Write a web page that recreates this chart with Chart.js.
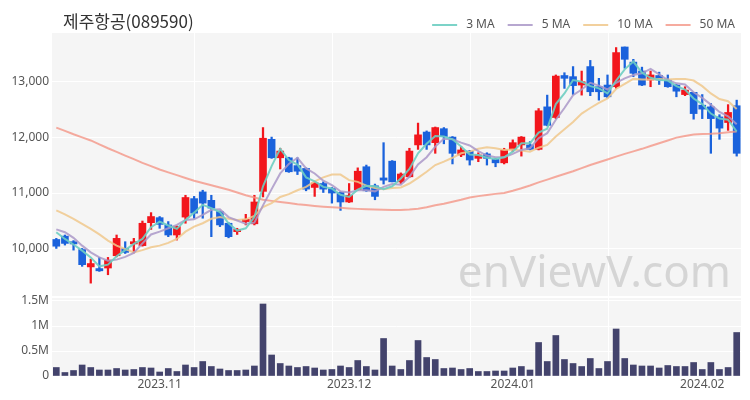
<!DOCTYPE html>
<html>
<head>
<meta charset="utf-8">
<script src="https://cdn.jsdelivr.net/npm/chart.js@4.4.1/dist/chart.umd.min.js"></script>
<style>
  html, body { margin: 0; padding: 0; background: #fff; }
  #wrap { position: relative; width: 750px; height: 400px; overflow: hidden; }
  #title { position: absolute; left: 63px; top: 8px; font: 17px "Noto Sans CJK KR", "Noto Sans", sans-serif; color: #333; white-space: nowrap; }
  #priceCanvas { position: absolute; left: 0; top: 0; }
  #volCanvas { position: absolute; left: 0; top: 286px; }
</style>
</head>
<body>
<div id="wrap">
  <canvas id="priceCanvas" width="750" height="297"></canvas>
  <canvas id="volCanvas" width="750" height="114"></canvas>
  <div id="title">제주항공(089590)</div>
</div>
<script>
// ---- data ----
const dates = [
  '2023-10-16','2023-10-17','2023-10-18','2023-10-19','2023-10-20','2023-10-23','2023-10-24','2023-10-25','2023-10-26','2023-10-27','2023-10-30','2023-10-31',
  '2023-11-01','2023-11-02','2023-11-03','2023-11-06','2023-11-07','2023-11-08','2023-11-09','2023-11-10','2023-11-13','2023-11-14','2023-11-15','2023-11-16','2023-11-17','2023-11-20','2023-11-21','2023-11-22','2023-11-23','2023-11-24','2023-11-27','2023-11-28','2023-11-29','2023-11-30',
  '2023-12-01','2023-12-04','2023-12-05','2023-12-06','2023-12-07','2023-12-08','2023-12-11','2023-12-12','2023-12-13','2023-12-14','2023-12-15','2023-12-18','2023-12-19','2023-12-20','2023-12-21','2023-12-22','2023-12-26','2023-12-27','2023-12-28',
  '2024-01-02','2024-01-03','2024-01-04','2024-01-05','2024-01-08','2024-01-09','2024-01-10','2024-01-11','2024-01-12','2024-01-15','2024-01-16','2024-01-17','2024-01-18','2024-01-19','2024-01-22','2024-01-23','2024-01-24','2024-01-25','2024-01-26','2024-01-29','2024-01-30','2024-01-31',
  '2024-02-01','2024-02-02','2024-02-05','2024-02-06','2024-02-07'
];
const opens = [10170,10230,10130,9990,9680,9650,9660,9880,10010,10090,10060,10470,10560,10430,10250,10570,10900,11020,10870,10670,
  10460,10310,10490,10450,11030,11960,11630,11630,11490,11440,11100,11170,11080,11010,10840,11060,11470,11130,11270,11570,
  11200,11290,11860,12090,11900,12150,12000,11680,11750,11620,11700,11600,11540,11780,11860,11860,11780,12540,12350,13100,
  13080,12930,13260,12900,12930,12900,13610,13340,13180,13020,13100,13020,12930,12760,12800,12570,12540,12360,12260,12560];
const highs = [10190,10250,10150,10010,9820,9850,9850,10250,10130,10190,10500,10650,10580,10490,10410,10960,10940,11050,10960,10680,
  10470,10370,10620,10960,12170,12000,11800,11640,11630,11450,11200,11200,11100,11020,11170,11450,11500,11160,11900,11580,
  11360,11800,12250,12110,12180,12170,12010,11830,11760,11720,11720,11620,11800,11950,12010,11920,12510,12750,13110,13150,
  13260,13180,13370,13050,13110,13600,13610,13390,13250,13180,13160,13110,12940,12900,12800,12760,12600,12400,12580,12660];
const lows = [10010,10070,9980,9690,9390,9600,9540,9860,9920,9930,10050,10350,10370,10220,10160,10460,10550,10550,10220,10400,
  10200,10260,10430,10430,10930,11620,11430,11370,11330,11040,10940,11010,10820,10690,10830,11050,11030,10880,11160,11200,
  11170,11280,11780,11780,11710,11880,11520,11650,11500,11560,11500,11470,11520,11740,11660,11770,11770,12200,12330,12870,
  12760,12750,12740,12660,12700,12870,13230,13080,12920,12900,12940,12890,12720,12740,12320,12330,11710,11960,12120,11660];
const closes = [10050,10100,10090,9720,9740,9610,9800,10190,9940,10130,10460,10580,10440,10250,10400,10920,10640,10820,10730,10430,
  10220,10350,10530,10840,11980,11630,11750,11380,11390,11070,11180,11070,11000,10840,10960,11390,11040,10940,11230,11200,
  11340,11750,12040,11860,12170,12010,11710,11770,11590,11680,11620,11540,11770,11900,12000,11780,12470,12210,13090,13050,
  12920,12990,12810,12810,12720,13510,13390,13140,12930,13110,13020,12900,12820,12840,12420,12500,12330,12160,12440,11710];
const volumes = [170000,70000,110000,220000,170000,120000,120000,150000,120000,130000,170000,160000,80000,150000,90000,220000,170000,290000,190000,140000,
  110000,110000,120000,200000,1440000,420000,250000,200000,170000,190000,160000,120000,130000,200000,170000,310000,190000,120000,750000,200000,
  130000,310000,710000,370000,330000,150000,160000,130000,150000,90000,90000,100000,100000,160000,190000,120000,670000,290000,810000,330000,
  250000,190000,350000,150000,290000,940000,350000,220000,200000,200000,160000,210000,190000,190000,270000,130000,270000,130000,170000,870000];
const ma3 = [10300,10180,10080,9970,9850,9690,9720,9870,9980,10090,10180,10390,10490,10420,10360,10520,10650,10790,10730,10660,
  10460,10330,10370,10570,11120,11480,11790,11590,11510,11280,11210,11110,11080,10970,10930,11060,11130,11120,11070,11120,
  11260,11430,11710,11880,12020,12010,11960,11830,11690,11680,11630,11610,11640,11740,11890,11890,12080,12150,12590,12780,
  13020,12990,12910,12870,12780,13010,13210,13350,13150,13060,13020,13010,12910,12850,12690,12590,12420,12330,12310,12100];
const ma5 = [10350,10300,10200,10060,9940,9850,9790,9810,9860,9930,10100,10260,10310,10370,10430,10520,10530,10610,10700,10710,
  10570,10510,10450,10470,10780,11070,11350,11520,11630,11440,11350,11220,11140,11030,11010,11050,11050,11030,11110,11160,
  11150,11290,11510,11640,11830,11970,11960,11900,11850,11750,11670,11640,11640,11700,11770,11800,11980,12070,12310,12520,
  12750,12850,12970,12920,12850,12970,13050,13110,13140,13220,13120,13020,12960,12940,12800,12700,12580,12450,12370,12230];
const ma10 = [10690,10620,10540,10450,10360,10260,10150,10060,10000,9940,9980,10030,10060,10110,10180,10310,10400,10460,10540,10570,
  10540,10520,10530,10590,10750,10820,10930,10980,11050,11110,11210,11280,11330,11330,11230,11200,11130,11090,11070,11090,
  11100,11170,11270,11380,11500,11560,11630,11710,11740,11790,11820,11800,11770,11780,11760,11740,11810,11860,12010,12140,
  12270,12420,12520,12610,12690,12860,12950,13040,13030,13030,13040,13030,13040,13040,13010,12910,12780,12680,12640,12500];
const ma50 = [12170,12110,12050,11995,11940,11870,11800,11735,11670,11605,11540,11480,11420,11370,11320,11270,11220,11180,11140,11100,
  11060,11010,10960,10920,10880,10860,10840,10820,10800,10785,10770,10757,10745,10735,10725,10717,10710,10705,10700,10698,
  10696,10705,10720,10745,10780,10810,10845,10880,10920,10945,10965,10985,11000,11040,11085,11135,11190,11240,11290,11340,
  11390,11445,11500,11550,11600,11650,11700,11745,11790,11840,11890,11940,11990,12020,12045,12055,12060,12070,12085,12100];
const priceTicks = [10000, 11000, 12000, 13000];
const volumeTicks = [0, 500000, 1000000, 1500000];
const volumeTickLabels = ['0', '0.5M', '1M', '1.5M'];
const maNames = ['3 MA', '5 MA', '10 MA', '50 MA'];

// ---- styling ----
const UP = '#f2161c', DOWN = '#1a62dc';
const maColors = ['rgba(110,206,194,0.9)', 'rgba(170,152,200,0.85)', 'rgba(240,200,140,0.85)', 'rgba(244,150,135,0.8)'];
const FONT = '"Noto Sans", "Noto Sans CJK KR", sans-serif';
const LEFT_AXIS_W = 52;
const gridIdx = [16, 32, 48, 64];
const candleColors = opens.map((o, i) => closes[i] >= o ? UP : DOWN);

const bgPlugin = {
  id: 'plotBg',
  beforeDraw(chart) {
    const {ctx, chartArea: a} = chart;
    ctx.save();
    ctx.fillStyle = '#f5f5f5';
    ctx.fillRect(a.left, a.top, a.right - a.left, a.bottom - a.top);
    ctx.restore();
  }
};
const vGrid = {
  id: 'vGrid',
  beforeDatasetsDraw(chart) {
    const {ctx, chartArea: a, scales} = chart;
    ctx.save();
    ctx.strokeStyle = '#ffffff';
    ctx.lineWidth = 1;
    gridIdx.forEach(i => {
      const x = Math.round(scales.x.getPixelForValue(i)) + 0.5;
      ctx.beginPath(); ctx.moveTo(x, a.top); ctx.lineTo(x, a.bottom); ctx.stroke();
    });
    ctx.restore();
  }
};
const watermark = {
  id: 'watermark',
  beforeDatasetsDraw(chart) {
    const {ctx} = chart;
    ctx.save();
    ctx.font = '44px ' + FONT;
    ctx.fillStyle = 'rgba(200,200,200,0.7)';
    ctx.textAlign = 'right';
    ctx.textBaseline = 'alphabetic';
    ctx.fillText('enViewV.com', 731, 287);
    ctx.restore();
  }
};
const maLegend = {
  id: 'maLegend',
  afterDraw(chart) {
    const {ctx} = chart;
    const items = chart.data.datasets.filter(d => d.type === 'line');
    ctx.save();
    ctx.font = '12px ' + FONT;
    ctx.textBaseline = 'middle';
    let x = 735;
    const y = 25;
    for (let k = items.length - 1; k >= 0; k--) {
      const d = items[k];
      const w = ctx.measureText(d.label).width;
      ctx.fillStyle = '#555';
      ctx.textAlign = 'left';
      ctx.fillText(d.label, x - w, y);
      x -= w + 9;
      ctx.strokeStyle = d.borderColor;
      ctx.lineWidth = 2;
      ctx.beginPath();
      ctx.moveTo(x - 25, y);
      ctx.lineTo(x, y);
      ctx.stroke();
      x -= 25 + 13;
    }
    ctx.restore();
  }
};
function noPad(s) { s.paddingTop = 0; s.paddingBottom = 0; }

const priceChart = new Chart(document.getElementById('priceCanvas'), {
  data: {
    labels: dates,
    datasets: [
      ...[ma3, ma5, ma10, ma50].map((arr, k) => ({
        type: 'line', label: maNames[k], data: arr, borderColor: maColors[k],
        borderWidth: 2, pointRadius: 0, tension: 0, order: 0
      })),
      { type: 'bar', label: 'wick', data: lows.map((l, i) => [l, highs[i]]),
        backgroundColor: candleColors, barThickness: 1.6, grouped: false, order: 2 },
      { type: 'bar', label: 'body', data: opens.map((o, i) => [o, closes[i]]),
        backgroundColor: candleColors, barThickness: 7, grouped: false, order: 1, minBarLength: 1 }
    ]
  },
  options: {
    responsive: false, animation: false, devicePixelRatio: 1,
    layout: { padding: { left: 0, right: 9, top: 33, bottom: 1 } },
    plugins: { legend: { display: false }, tooltip: { enabled: false } },
    scales: {
      x: { type: 'category', offset: true, display: false },
      y: { type: 'linear', min: 9160, max: 13860,
        afterBuildTicks(s) { s.ticks = priceTicks.map(v => ({ value: v })); },
        afterFit(s) { s.width = LEFT_AXIS_W; noPad(s); },
        grid: { color: '#ffffff', lineWidth: 1, drawTicks: false },
        border: { display: false },
        ticks: { padding: 3, color: '#555', font: { family: FONT, size: 12 },
          callback: v => v.toLocaleString('en-US') } }
    }
  },
  plugins: [bgPlugin, vGrid, watermark, maLegend]
});

const volChart = new Chart(document.getElementById('volCanvas'), {
  type: 'bar',
  data: {
    labels: dates,
    datasets: [{ label: 'volume', data: volumes, backgroundColor: '#43436c', barThickness: 6 }]
  },
  options: {
    responsive: false, animation: false, devicePixelRatio: 1,
    layout: { padding: { left: 0, right: 9, top: 12, bottom: 0 } },
    plugins: { legend: { display: false }, tooltip: { enabled: false } },
    scales: {
      x: { type: 'category', offset: true, grid: { display: false, drawTicks: false, tickLength: 0 }, border: { display: false },
        afterFit(s) { s.height = 24; s.paddingLeft = 0; s.paddingRight = 0; },
        ticks: { autoSkip: false, maxRotation: 0, padding: 1, color: '#555', font: { family: FONT, size: 12 },
          callback(val, idx) {
            const d = dates[idx], p = idx > 0 ? dates[idx - 1] : null;
            if (p && d.slice(0, 7) !== p.slice(0, 7)) return d.slice(0, 4) + '.' + d.slice(5, 7);
            return '';
          } } },
      y: { type: 'linear', min: 0, max: 1560000,
        afterBuildTicks(s) { s.ticks = volumeTicks.map(v => ({ value: v })); },
        afterFit(s) { s.width = LEFT_AXIS_W; noPad(s); },
        grid: { color: '#ffffff', lineWidth: 1, drawTicks: false },
        border: { display: false },
        ticks: { padding: 3, color: '#555', font: { family: FONT, size: 12 },
          callback: v => volumeTickLabels[volumeTicks.indexOf(v)] } }
    }
  },
  plugins: [bgPlugin, vGrid]
});
</script>
</body>
</html>
